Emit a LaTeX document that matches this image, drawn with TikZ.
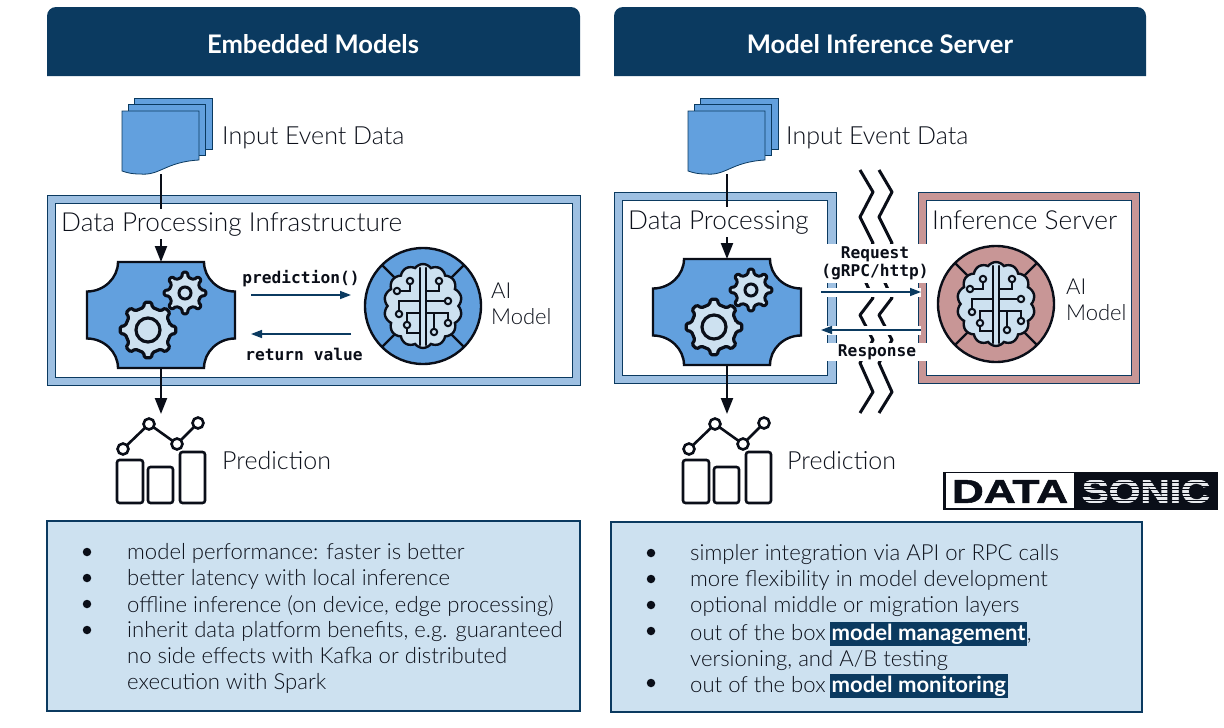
\documentclass[tikz,border=0pt]{standalone}
\usepackage{fontspec}
\usepackage{xcolor}
\usetikzlibrary{arrows.meta,shapes.symbols}
\setmainfont{Lato}[UprightFont=* Light,BoldFont=* Bold]
\newfontfamily\codefont{DejaVu Sans Mono}[UprightFont=* Bold]
\newfontfamily\logofont{Liberation Sans}[UprightFont=* Bold,FakeBold=1.5]
\definecolor{headernavy}{RGB}{11, 58, 96}
\definecolor{textdark}{RGB}{12, 16, 26}
\definecolor{iconblack}{RGB}{10, 14, 24}
\definecolor{procblue}{RGB}{98, 160, 222}
\definecolor{frameblue}{RGB}{158, 192, 226}
\definecolor{framepink}{RGB}{200, 150, 150}
\definecolor{paleblue}{RGB}{205, 225, 240}
\definecolor{logosilver}{RGB}{232, 234, 238}
\newcommand{\hlword}[1]{\hspace{-1.5pt}{\fboxsep=1.5pt\colorbox{headernavy}{\textcolor{white}{\textbf{#1}}}}}
\newcommand{\gearicon}[6]{% x, y, outer radius, root radius, hole radius, line width
  \begin{scope}[shift={(#1,#2)}]
    \draw[draw=iconblack, line width=#6pt, fill=paleblue, rounded corners=1.5pt, line join=round]
      (-11:#4) \foreach \a in {0,45,...,315}{ -- (\a-11:#4) -- (\a-7:#3) -- (\a+7:#3) -- (\a+11:#4) } -- cycle;
    \draw[draw=iconblack, line width=#6pt] (0,0) circle (#5);
  \end{scope}
}
\tikzset{
  pics/docicon/.style={code={
    \draw[draw=headernavy, fill=procblue, line width=0.8pt] (-27,-38) rectangle (51,13);
    \draw[draw=headernavy, fill=procblue, line width=0.8pt] (-33,-32) rectangle (44,19);
    \draw[draw=headernavy, fill=procblue, line width=0.8pt] (-39,-25) -- (38,-25) -- (38,24)
      .. controls (4,26) and (-1,40) .. (-21,38) .. controls (-29,38) and (-33,37) .. (-39,35) -- cycle;
  }},
  pics/procicon/.style={code={
    \draw[draw=iconblack, fill=procblue, line width=2.4pt] (-43,-53) -- (43,-53)
      .. controls (43,-37) and (57,-23.5) .. (74,-23.5) -- (74,23.5)
      .. controls (57,23.5) and (43,37) .. (43,53) -- (-43,53)
      .. controls (-43,37) and (-57,23.5) .. (-74,23.5) -- (-74,-23.5)
      .. controls (-57,-23.5) and (-43,-37) .. (-43,-53) -- cycle;
    \gearicon{24}{-22}{21}{16}{6}{3}
    \gearicon{-13}{15}{28}{23}{12}{3.2}
  }},
  pics/brainicon/.style={code={
    \draw[draw=iconblack, fill=#1, line width=2.4pt] (0,0) circle (58);
    \foreach \a in {45,135,225,315}
      \draw[draw=iconblack, line width=2.4pt] (\a:36) -- (\a:58);
    \node[cloud, cloud puffs=14, cloud puff arc=110, cloud ignores aspect, draw=iconblack, fill=paleblue, line width=2.4pt,
      minimum width=78pt, minimum height=84pt, inner sep=0pt] (lobes) at (0,0) {};
    \draw[draw=iconblack, line width=2.4pt, line cap=round] (-3,-38) -- (-3,39);
    \draw[draw=iconblack, line width=2.4pt, line cap=round] (3,-38) -- (3,39);
    % circuit traces
    \draw[draw=iconblack, line width=2pt] (-13,-25) -- (-13,-15) -- (-26,-15);
    \draw[draw=iconblack, line width=2pt] (16,-25) -- (16,-15) -- (3,-15);
    \draw[draw=iconblack, line width=2pt] (25,-5) -- (3,-5);
    \draw[draw=iconblack, line width=2pt] (-24,8) -- (-24,-5) -- (-3,-5);
    \draw[draw=iconblack, line width=2pt] (-3,7) -- (-16,7) -- (-16,19) -- (-16,27) -- (-3,27);
    \draw[draw=iconblack, line width=2pt] (3,7) -- (25,7) -- (25,17);
    \draw[draw=iconblack, line width=2pt] (11,7) -- (11,26);
    \foreach \cx/\cy in {-13/-25,-26/-15,16/-25,25/-5,-24/8,-16/19,11/26,25/17}
      \draw[draw=iconblack, fill=paleblue, line width=2pt] (\cx,\cy) circle (3.2);
  }},
  pics/charticon/.style={code={
    \draw[draw=iconblack, line width=2.6pt, rounded corners=2.5pt, fill=white] (-44,1.5) rectangle (-18,44.5);
    \draw[draw=iconblack, line width=2.6pt, rounded corners=2.5pt, fill=white] (-13,8.5) rectangle (12,44.5);
    \draw[draw=iconblack, line width=2.6pt, rounded corners=2.5pt, fill=white] (19,-6.5) rectangle (44,44.5);
    \draw[draw=iconblack, line width=2.6pt] (-38,-9.5) -- (-12,-34.5) -- (16,-14.5) -- (37,-35.5);
    \foreach \cx/\cy in {-38/-9.5,-12/-34.5,16/-14.5,37/-35.5}
      \draw[draw=iconblack, fill=white, line width=2.6pt] (\cx,\cy) circle (5.5);
  }}
}
\begin{document}
\begin{tikzpicture}[
    x=1pt, y=-1pt,
    header_title/.style={text=white, font=\fontsize{25.6}{30}\selectfont\bfseries},
    plain_label/.style={anchor=west, inner sep=0pt, text=textdark, font=\fontsize{25}{30}\selectfont},
    box_title/.style={anchor=west, inner sep=2pt, fill=white, text=textdark, text height=20pt, text depth=6pt, font=\fontsize{26.2}{30}\selectfont},
    model_label/.style={anchor=west, inner sep=0pt, align=left, text=textdark, font=\fontsize{22}{26}\selectfont},
    code_label/.style={inner sep=0pt, align=center, text=iconblack, font=\fontsize{16.2}{18}\selectfont\codefont},
    icon_spot/.style={inner sep=0pt, outer sep=0pt, draw=none},
    list_box/.style={rectangle, draw=headernavy, line width=2pt, fill=paleblue, inner sep=0pt},
    list_text/.style={anchor=north west, inner sep=0pt, align=left, text=textdark, font=\fontsize{22.1}{26}\selectfont},
    list_dot/.style={circle, fill=iconblack, minimum size=8.5pt, inner sep=0pt},
    dataflow/.style={draw=iconblack, line width=2.2pt, -{Triangle[length=16pt,width=12pt]}},
    callflow/.style={draw=headernavy, line width=1.5pt, -{Triangle[length=11pt,width=8pt]}},
    rpcflow/.style={callflow, preaction={draw=white, line width=9pt, -}},
    link_break/.style={draw=iconblack, line width=3pt, line join=round},
    logo_word/.style={inner sep=0pt, font=\fontsize{33}{33}\selectfont\logofont}
  ]
  \useasboundingbox (0,0) rectangle (1224,728);

  % Headers
  \fill[headernavy] (47,76) [rounded corners=9pt] -- (47,7) -- (580,7) [sharp corners] -- (580,76) -- cycle;
  \fill[headernavy] (614,76) [rounded corners=9pt] -- (614,7) -- (1146,7) [sharp corners] -- (1146,76) -- cycle;
  \node[header_title] (embedded_title) at (313,44) {Embedded Models};
  \node[header_title] (server_title) at (880,44) {Model Inference Server};

  % Link between the two boxes on the right
  \draw[link_break] (860,170) -- (873,192) -- (860,217) -- (873,243) -- (860,270) -- (873,298) -- (860,315) -- (873,340) -- (860,363) -- (873,392) -- (860,413);
  \draw[link_break] (879,170) -- (892,192) -- (879,217) -- (892,243) -- (879,270) -- (892,298) -- (879,315) -- (892,340) -- (879,363) -- (892,392) -- (879,413);

  % Frames
  \node[rectangle, draw=headernavy, line width=1pt, fill=frameblue, minimum width=533pt, minimum height=190pt, inner sep=0pt] (infra_frame) at (313.5,290.5) {};
  \node[rectangle, draw=headernavy, line width=1pt, fill=white, minimum width=517pt, minimum height=174pt, inner sep=0pt] (infra_inner) at (313.5,290.5) {};
  \node[rectangle, draw=headernavy, line width=1pt, fill=frameblue, minimum width=222pt, minimum height=191pt, inner sep=0pt] (data_frame) at (725,287.5) {};
  \node[rectangle, draw=headernavy, line width=1pt, fill=white, minimum width=205pt, minimum height=175pt, inner sep=0pt] (data_inner) at (725,287.5) {};
  \node[rectangle, draw=headernavy, line width=1pt, fill=framepink, minimum width=221pt, minimum height=191pt, inner sep=0pt] (server_frame) at (1028.5,287.5) {};
  \node[rectangle, draw=headernavy, line width=1pt, fill=white, minimum width=205pt, minimum height=175pt, inner sep=0pt] (server_inner) at (1028.5,287.5) {};

  % Icon spots
  \node[icon_spot, minimum width=77pt, minimum height=76pt] (input_l) at (161,136) {};
  \node[icon_spot, minimum width=77pt, minimum height=76pt] (input_r) at (727,136) {};
  \node[icon_spot, minimum width=148pt, minimum height=106pt] (proc_l) at (161,315) {};
  \node[icon_spot, minimum width=148pt, minimum height=106pt] (proc_r) at (727,312) {};
  \node[icon_spot, minimum width=118pt, minimum height=118pt] (model_l) at (423,306) {};
  \node[icon_spot, minimum width=118pt, minimum height=118pt] (model_r) at (996,304) {};
  \node[icon_spot, minimum width=88pt, minimum height=89pt] (chart_l) at (161,458.5) {};
  \node[icon_spot, minimum width=88pt, minimum height=89pt] (chart_r) at (727,458.5) {};

  \pic at (input_l) {docicon};
  \pic at (input_r) {docicon};
  \pic at (proc_l) {procicon};
  \pic at (proc_r) {procicon};
  \pic at (model_l) {brainicon=procblue};
  \pic at (model_r) {brainicon=framepink};
  \pic at (chart_l) {charticon};
  \pic at (chart_r) {charticon};

  % Main flows
  \draw[dataflow] (input_l) -- (proc_l);
  \draw[dataflow] (input_r) -- (proc_r);
  \draw[dataflow] (proc_l) -- (chart_l);
  \draw[dataflow] (proc_r) -- (chart_r);

  % Labels
  \node[plain_label] (input_text_l) at (222,138) {Input Event Data};
  \node[plain_label] (input_text_r) at (786,138) {Input Event Data};
  \node[box_title] (infra_title) at (59,224) {Data Processing Infrastructure};
  \node[box_title] (data_title) at (626,222) {Data Processing};
  \node[box_title] (server_name) at (930,222) {Inference Server};
  \node[model_label] (model_text_l) at (491,304) {AI\\Model};
  \node[model_label] (model_text_r) at (1066,300) {AI\\Model};
  \node[plain_label] (chart_text_l) at (222,461) {Prediction};
  \node[plain_label] (chart_text_r) at (787,461) {Prediction};

  % Calls on the left
  \draw[callflow, shorten <=16pt, shorten >=13pt] ([yshift=20pt]proc_l.east) -- ([yshift=11pt]model_l.west);
  \draw[callflow, shorten <=13pt, shorten >=16pt] ([yshift=-28pt]model_l.west) -- ([yshift=-19pt]proc_l.east);
  \node[code_label] (call_text) at (301,279) {prediction()};
  \node[code_label] (return_text) at (304,354) {return value};

  % Calls on the right
  \node[code_label, fill=white, minimum width=106pt, minimum height=39pt] (request_text) at (875,263.5) {Request\\(gRPC/http)};
  \node[code_label, fill=white, minimum width=100pt, minimum height=18pt] (response_text) at (877,352) {Response};
  \draw[rpcflow, shorten <=20pt, shorten >=16pt] ([yshift=20pt]proc_r.east) -- ([yshift=12pt]model_r.west);
  \draw[rpcflow, shorten <=16pt, shorten >=20pt] ([yshift=-26pt]model_r.west) -- ([yshift=-18pt]proc_r.east);

  % Logo
  \node[rectangle, fill=iconblack, minimum width=275pt, minimum height=38pt, inner sep=0pt] (logo_back) at (1080.5,491) {};
  \node[rectangle, fill=white, minimum width=128pt, minimum height=35pt, inner sep=0pt] (logo_plate) at (1010,490.5) {};
  \node[logo_word, text=iconblack, xscale=1.34] (logo_data) at (1010,491.5) {DATA};
  \node[logo_word, text=logosilver, xscale=1.23] (logo_sonic) at (1146,491.5) {SONIC};
  \foreach \y in {479,482.5,...,504}
    \draw[draw=iconblack, line width=0.4pt] (1078,\y) -- (1218,\y);

  % Left list
  \node[list_box, minimum width=533pt, minimum height=190pt] (list_l) at (313.5,616) {};
  \node[list_dot] (dot_l1) at (87,552) {};
  \node[list_text] (item_l1) at (127,543) {model performance: faster is better};
  \node[list_dot] (dot_l2) at (87,578) {};
  \node[list_text] (item_l2) at (127,569) {better latency with local inference};
  \node[list_dot] (dot_l3) at (87,604) {};
  \node[list_text] (item_l3) at (127,595) {offline inference (on device, edge processing)};
  \node[list_dot] (dot_l4) at (87,630) {};
  \node[list_text] (item_l4) at (127,621) {inherit data platform benefits, e.g. guaranteed\\no side effects with Kafka or distributed\\execution with Spark};

  % Right list
  \node[list_box, minimum width=531pt, minimum height=190pt] (list_r) at (876.5,616.5) {};
  \node[list_dot] (dot_r1) at (651,553) {};
  \node[list_text] (item_r1) at (690,544) {simpler integration via API or RPC calls};
  \node[list_dot] (dot_r2) at (651,579) {};
  \node[list_text] (item_r2) at (690,570) {more flexibility in model development};
  \node[list_dot] (dot_r3) at (651,605) {};
  \node[list_text] (item_r3) at (690,596) {optional middle or migration layers};
  \node[list_dot] (dot_r4) at (651,631) {};
  \node[list_text] (item_r4) at (690,622) {out of the box \hlword{model management},\\versioning, and A/B testing};
  \node[list_dot] (dot_r5) at (651,683) {};
  \node[list_text] (item_r5) at (690,674) {out of the box \hlword{model monitoring}};
\end{tikzpicture}
\end{document}
